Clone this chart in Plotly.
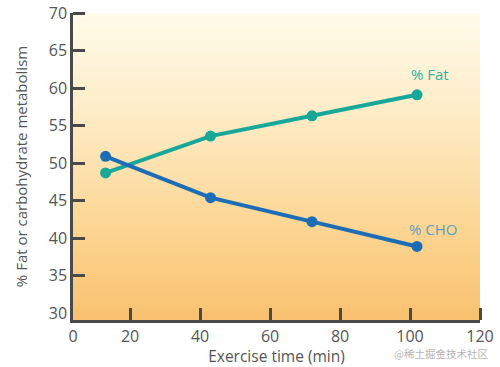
import numpy as np
import plotly.graph_objects as go

# Data
time_min = [13, 43, 72, 102]
fat_pct = [48.7, 53.6, 56.3, 59.1]
cho_pct = [50.9, 45.4, 42.2, 38.9]

x_tick_vals = [20, 40, 60, 80, 100, 120]
x_tick_text = ["0", "20", "40", "60", "80", "100", "120"]
y_tick_vals = [30, 35, 40, 45, 50, 55, 60, 65, 70]

X_MIN, X_MAX = 3.7, 120
Y_MIN, Y_MAX = 29.1, 70

FONT = "Open Sans"
GRAY = "#555555"
AXIS = "#4a4a4a"
TEAL = "#17a89a"
BLUE = "#1c6db5"

fig = go.Figure()

# background vertical gradient via heatmap
n = 60
y_edges = np.linspace(Y_MIN, Y_MAX, n + 1)
y_centers = (y_edges[:-1] + y_edges[1:]) / 2
fig.add_trace(go.Heatmap(
    x=[X_MIN, X_MAX], y=y_edges, z=[[v] for v in y_centers],
    colorscale=[[0, "#f9c170"], [0.3, "#fcd592"], [0.6, "#fde8bd"], [1, "#fffbea"]],
    showscale=False, hoverinfo="skip", zsmooth="best",
))

fig.add_trace(go.Scatter(
    x=time_min, y=fat_pct, mode="lines+markers", name="% Fat",
    line=dict(color=TEAL, width=4), marker=dict(color=TEAL, size=11),
))
fig.add_trace(go.Scatter(
    x=time_min, y=cho_pct, mode="lines+markers", name="% CHO",
    line=dict(color=BLUE, width=4), marker=dict(color=BLUE, size=11),
))

fig.add_annotation(x=time_min[-1], y=fat_pct[-1], text="% Fat", showarrow=False,
                   yshift=21, xshift=13, font=dict(family=FONT, size=15, color="#2fb3a4"))
fig.add_annotation(x=time_min[-1], y=cho_pct[-1], text="% CHO", showarrow=False,
                   yshift=17, xshift=16, font=dict(family=FONT, size=15, color="#5b9fc2"))

fig.add_annotation(xref="paper", yref="paper", x=1.025, y=-0.108, xanchor="right", yanchor="middle",
                   text="@稀土掘金技术社区", showarrow=False,
                   font=dict(family="Noto Sans CJK SC", size=10.5, color="#b5b5b5"))

fig.update_layout(
    width=500, height=367,
    margin=dict(l=73, r=20, t=13, b=47),
    paper_bgcolor="white", plot_bgcolor="white",
    showlegend=False,
    font=dict(family=FONT, color=GRAY),
    xaxis=dict(
        range=[X_MIN, X_MAX], automargin=False,
        tickvals=[X_MIN] + x_tick_vals, ticktext=x_tick_text,
        ticks="", showgrid=False, zeroline=False,
        showline=True, linecolor=AXIS, linewidth=2.5,
        tickfont=dict(size=16, color=GRAY),
        minor=dict(tickvals=x_tick_vals, ticks="inside", ticklen=12, tickwidth=2.5, tickcolor=AXIS, showgrid=False),
        title=dict(text="Exercise time (min)", font=dict(size=15.5, color=GRAY), standoff=4),
    ),
    yaxis=dict(
        range=[Y_MIN, Y_MAX], automargin=False,
        tickvals=y_tick_vals,
        ticks="", showgrid=False, zeroline=False,
        showline=True, linecolor=AXIS, linewidth=2.5,
        tickfont=dict(size=16, color=GRAY),
        minor=dict(tickvals=y_tick_vals[1:], ticks="inside", ticklen=12, tickwidth=2.5, tickcolor=AXIS, showgrid=False),
        title=dict(text="% Fat or carbohydrate metabolism", font=dict(size=15, color=GRAY), standoff=18),
    ),
)

# remove the page's default 8px body margin so the figure fills the window
fig.write_html("out.html", config={"displayModeBar": False},
               post_script="document.body.style.margin='0';")
